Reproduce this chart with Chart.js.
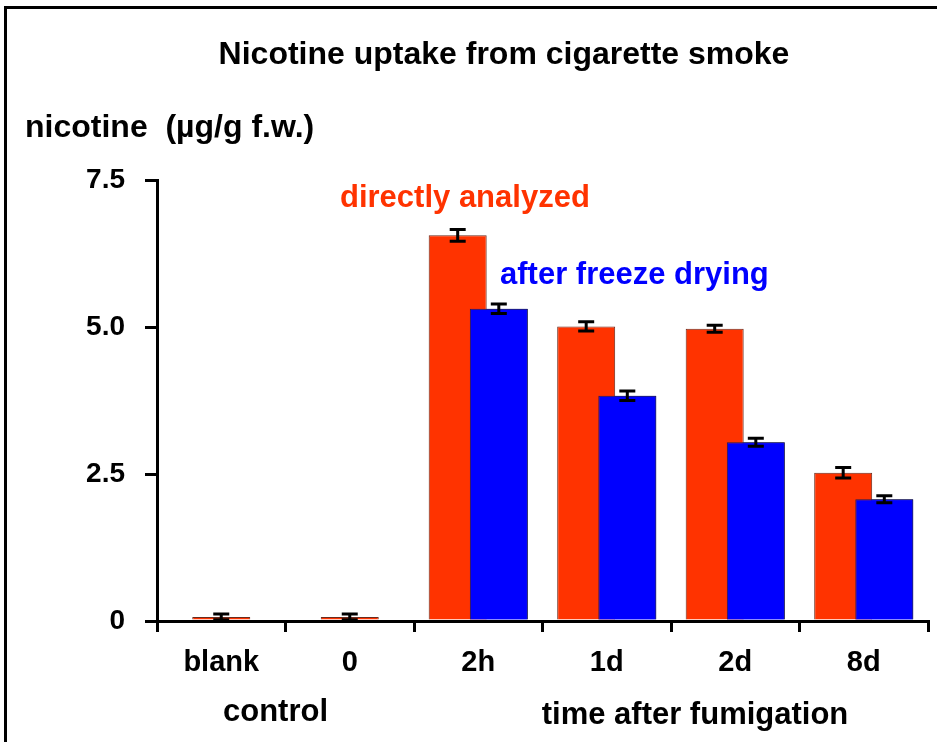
<!DOCTYPE html>
<html>
<head>
<meta charset="utf-8">
<script src="https://cdn.jsdelivr.net/npm/chart.js@4.4.1/dist/chart.umd.min.js"></script>
<style>
  html, body { margin: 0; padding: 0; background: #fff; }
  #wrap { width: 937px; height: 742px; position: relative; }
</style>
</head>
<body>
<div id="wrap"><canvas id="c" width="937" height="742"></canvas></div>
<script>
// Nicotine content (µg/g fresh weight) per sampling time
const categories = ['blank', '0', '2h', '1d', '2d', '8d'];
const directlyAnalyzed = [0.07, 0.07, 6.56, 5.01, 4.97, 2.52];
const directlyAnalyzedErr = [0.05, 0.05, 0.10, 0.08, 0.06, 0.09];
const afterFreezeDrying = [null, null, 5.31, 3.83, 3.04, 2.07];
const afterFreezeDryingErr = [null, null, 0.08, 0.08, 0.07, 0.06];
const yTickValues = [0, 2.5, 5.0, 7.5];
const yTickLabels = ['0', '2.5', '5.0', '7.5'];

const FONT = "'Liberation Sans', Arial, Helvetica, sans-serif";
const RED = '#ff3300';
const BLUE = '#0000ff';

// Error bars, drawn after the bars; freeze-dried bars are repainted so they sit over the red ones
const errorBars = {
  id: 'errorBars',
  afterDatasetsDraw(chart) {
    const ctx = chart.ctx;
    const y = chart.scales.y;
    const blueMeta = chart.getDatasetMeta(1);
    blueMeta.data.forEach((el, i) => {
      if (afterFreezeDrying[i] !== null) el.draw(ctx);
    });
    const sets = [
      { meta: chart.getDatasetMeta(0), vals: directlyAnalyzed, errs: directlyAnalyzedErr },
      { meta: blueMeta, vals: afterFreezeDrying, errs: afterFreezeDryingErr }
    ];
    ctx.save();
    ctx.strokeStyle = '#000';
    ctx.lineWidth = 3;
    sets.forEach(s => {
      s.meta.data.forEach((el, i) => {
        const v = s.vals[i], e = s.errs[i];
        if (v === null || e === null) return;
        const top = y.getPixelForValue(v + e);
        const bot = y.getPixelForValue(Math.max(0, v - e));
        const cap = 8;
        ctx.beginPath();
        ctx.moveTo(el.x, top); ctx.lineTo(el.x, bot);
        ctx.moveTo(el.x - cap, top); ctx.lineTo(el.x + cap, top);
        ctx.moveTo(el.x - cap, bot); ctx.lineTo(el.x + cap, bot);
        ctx.stroke();
      });
    });
    ctx.restore();
  }
};

// Frame, title, axis caption, series captions and grouping captions
const annotations = {
  id: 'annotations',
  afterDraw(chart) {
    const ctx = chart.ctx;
    const x = chart.scales.x;
    ctx.save();
    ctx.strokeStyle = '#000';
    ctx.lineWidth = 3;
    ctx.beginPath();
    ctx.moveTo(5.5, 742);
    ctx.lineTo(5.5, 7.5);
    ctx.lineTo(937, 7.5);
    ctx.stroke();

    ctx.textBaseline = 'middle';
    ctx.fillStyle = '#000';
    ctx.font = `bold 32px ${FONT}`;
    ctx.textAlign = 'center';
    ctx.fillText('Nicotine uptake from cigarette smoke', 504, 55);

    ctx.textAlign = 'left';
    ctx.fillText('nicotine  (µg/g f.w.)', 25, 128);

    ctx.font = `bold 31px ${FONT}`;
    ctx.fillStyle = RED;
    ctx.fillText('directly analyzed', 340, 198);
    ctx.fillStyle = BLUE;
    ctx.fillText('after freeze drying', 500, 275);

    ctx.fillStyle = '#000';
    ctx.textAlign = 'center';
    const mid = (a, b) => (x.getPixelForValue(a) + x.getPixelForValue(b)) / 2;
    ctx.fillText('control', mid(0, 1) - 10, 712);
    ctx.fillText('time after fumigation', mid(2, 5) + 24, 715);
    ctx.restore();
  }
};

new Chart(document.getElementById('c'), {
  type: 'bar',
  data: {
    labels: categories,
    datasets: [
      { label: 'directly analyzed', data: directlyAnalyzed, backgroundColor: RED, borderColor: '#6a2a1c', borderWidth: 1 },
      { label: 'after freeze drying', data: afterFreezeDrying, backgroundColor: BLUE, borderColor: '#1c1c5c', borderWidth: 1 }
    ]
  },
  options: {
    responsive: false,
    animation: false,
    layout: { padding: { top: 180, right: 9, bottom: 0, left: 0 } },
    datasets: {
      bar: { categoryPercentage: 0.64, barPercentage: 1.44, maxBarThickness: 58, skipNull: true }
    },
    plugins: { legend: { display: false }, title: { display: false }, tooltip: { enabled: false } },
    scales: {
      x: {
        offset: true,
        grid: { offset: true, drawOnChartArea: false, drawTicks: true, tickLength: 11, color: '#000', lineWidth: 3 },
        border: { display: true, color: '#000', width: 3 },
        ticks: { color: '#000', font: { family: FONT, size: 29, weight: 'bold' }, padding: 14, maxRotation: 0, autoSkip: false },
        afterFit(s) { s.height = 121; }
      },
      y: {
        min: 0,
        max: 7.5,
        afterBuildTicks(s) { s.ticks = yTickValues.map(v => ({ value: v })); },
        grid: { drawOnChartArea: false, drawTicks: true, tickLength: 12, color: '#000', lineWidth: 3 },
        border: { display: true, color: '#000', width: 3 },
        ticks: {
          color: '#000',
          font: { family: FONT, size: 28, weight: 'bold' },
          padding: 20,
          callback: (v, i) => yTickLabels[i]
        },
        afterFit(s) { s.width = 157; }
      }
    }
  },
  plugins: [errorBars, annotations]
});
</script>
</body>
</html>
